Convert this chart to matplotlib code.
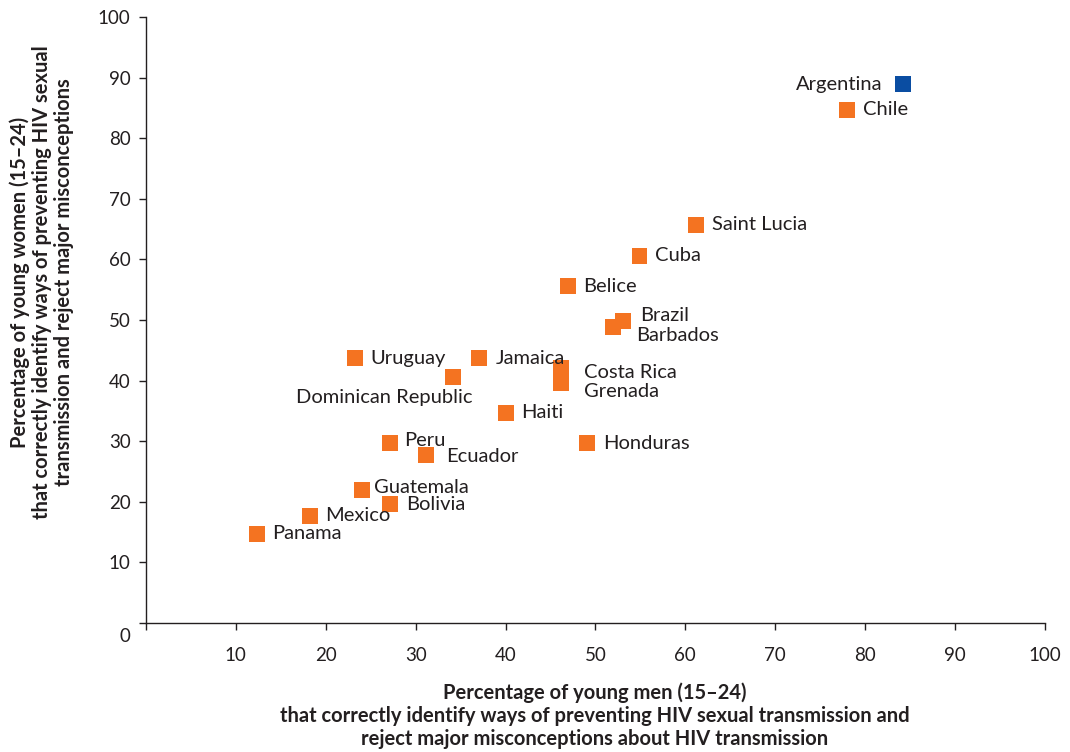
import numpy as np
import matplotlib.pyplot as plt

## HIV knowledge among young men vs young women, Latin America & Caribbean ##

countries = ["Argentina", "Chile", "Saint Lucia", "Cuba", "Belice", "Brazil", "Barbados",
             "Uruguay", "Jamaica", "Dominican Republic", "Costa Rica", "Grenada", "Haiti",
             "Honduras", "Peru", "Ecuador", "Guatemala", "Bolivia", "Mexico", "Panama"]
men = [84.2, 78.0, 61.2, 54.9, 46.9, 53.1, 52.0,
       23.2, 37.1, 34.2, 46.2, 46.2, 40.0,
       49.1, 27.2, 31.2, 24.0, 27.2, 18.2, 12.3]
women = [88.9, 84.7, 65.7, 60.6, 55.6, 49.8, 48.8,
         43.7, 43.7, 40.6, 42.1, 39.6, 34.7,
         29.7, 29.7, 27.7, 21.9, 19.6, 17.7, 14.7]
highlight = ["Argentina"]

xticks = [10, 20, 30, 40, 50, 60, 70, 80, 90, 100]
yticks = [10, 20, 30, 40, 50, 60, 70, 80, 90, 100]

xlabel = ("Percentage of young men (15\u201324)\n"
          "that correctly identify ways of preventing HIV sexual transmission and\n"
          "reject major misconceptions about HIV transmission")
ylabel = ("Percentage of young women (15\u201324)\n"
          "that correctly identify ways of preventing HIV sexual\n"
          "transmission and reject major misconceptions")

ORANGE = "#F47321"
BLUE = "#0A4DA2"
INK = "#231F20"
FS = 14.5

# label placement in offset points (dx, dy, ha)
label_pos = {
    "Argentina": (-15, 0, "right"),
    "Barbados": (16, -6, "left"),
    "Brazil": (12, 4, "left"),
    "Dominican Republic": (14, -15, "right"),
    "Costa Rica": (16, -3, "left"),
    "Grenada": (16, -6, "left"),
    "Peru": (10, 1.5, "left"),
    "Guatemala": (9, 2, "left"),
    "Ecuador": (14, -1, "left"),
}

plt.rcParams['font.family'] = ['Lato', 'DejaVu Sans']

fig = plt.figure(figsize=(10.7, 7.52), dpi=100)
ax = fig.add_axes([0.1364, 0.1715, 0.8402, 0.8059])

colors = [BLUE if c in highlight else ORANGE for c in countries]
ax.scatter(men, women, marker="s", s=11.5**2, c=colors, linewidths=0, zorder=3)

for c, x, y in zip(countries, men, women):
    dx, dy, ha = label_pos.get(c, (11.5, 0, "left"))
    ax.annotate(c, (x, y), xytext=(dx, dy), textcoords="offset points",
                ha=ha, va="center", fontsize=FS, color=INK)

ax.set_xlim(0, 100)
ax.set_ylim(0, 100)
ax.set_xticks([0] + xticks)
ax.set_xticklabels([""] + [str(t) for t in xticks])
ax.set_yticks([0] + yticks)
ax.set_yticklabels([""] + [str(t) for t in yticks])
ax.annotate("0", (0, 0), xytext=(-11, -10), textcoords="offset points",
            ha="right", va="center", fontsize=13.5, color=INK, annotation_clip=False)

for s in ["top", "right"]:
    ax.spines[s].set_visible(False)
for s in ["left", "bottom"]:
    ax.spines[s].set_color(INK)
    ax.spines[s].set_linewidth(1.0)
ax.tick_params(axis="x", direction="out", length=5, width=1, color=INK,
               labelsize=13.5, labelcolor=INK, pad=12)
ax.tick_params(axis="y", direction="out", length=5, width=1, color=INK,
               labelsize=13.5, labelcolor=INK, pad=6)

fig.text(0.556, 0.048, xlabel, ha="center", va="center", fontsize=FS,
         fontweight="bold", color=INK, linespacing=1.2)
fig.text(0.039, 0.625, ylabel, ha="center", va="center", rotation=90,
         fontsize=FS, fontweight="bold", color=INK, linespacing=1.15)

plt.savefig("out.png", dpi=100)
